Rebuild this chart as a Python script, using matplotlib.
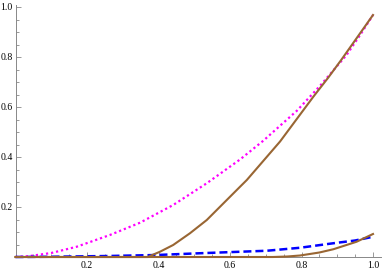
import matplotlib
matplotlib.use("Agg")
import matplotlib.pyplot as plt
from matplotlib.ticker import MultipleLocator, FixedLocator

# Magenta dotted curve
mag_x = [0, 0.04, 0.1, 0.171, 0.264, 0.348, 0.441, 0.535, 0.628, 0.693, 0.787, 0.852, 0.926, 0.964, 1.0]
mag_y = [0, 0.004, 0.016, 0.041, 0.088, 0.137, 0.208, 0.295, 0.390, 0.465, 0.585, 0.685, 0.808, 0.888, 0.968]

# Brown curve 1
br1_x = [0, 0.37, 0.376, 0.404, 0.441, 0.488, 0.535, 0.628, 0.647, 0.740, 0.833, 0.875, 0.912, 1.0]
br1_y = [0, 0, 0.004, 0.021, 0.048, 0.095, 0.148, 0.281, 0.308, 0.462, 0.641, 0.718, 0.790, 0.968]

# Blue dashed curve
blu_x = [0, 0.1, 0.26, 0.395, 0.516, 0.628, 0.703, 0.796, 0.889, 0.95, 1.0]
blu_y = [0, 0.001, 0.004, 0.008, 0.015, 0.021, 0.025, 0.037, 0.055, 0.066, 0.081]

# Brown curve 2
br2_x = [0, 0.72, 0.76, 0.796, 0.85, 0.889, 0.954, 1.0]
br2_y = [0, 0, 0.002, 0.006, 0.018, 0.031, 0.061, 0.092]

x_ticks = [0.2, 0.4, 0.6, 0.8, 1.0]
x_labels = ["0.2", "0.4", "0.6", "0.8", "1.0"]
y_ticks = [0.2, 0.4, 0.6, 0.8, 1.0]
y_labels = ["0.2", "0.4", "0.6", "0.8", "1.0"]

W, H = 382, 273
fig = plt.figure(figsize=(W / 100, H / 100), dpi=100)
left, right, y0px, toppx = 15.5, 380.7, 257, 5
ax = fig.add_axes([left / W, (H - y0px) / H, (right - left) / W, (y0px - toppx) / H])
ax.set_xlim(0, 1.0215)
ax.set_ylim(0, 1.008)

brown = "#996633"
ax.plot(mag_x, mag_y, color="#ff00ff", lw=1.6, linestyle=(0, (1.0, 1.3)),
        dash_capstyle="butt", clip_on=False, zorder=3)
ax.plot(blu_x, blu_y, color="#0000ff", lw=1.8, linestyle=(0, (3.2, 1.6)),
        dash_capstyle="butt", clip_on=False, zorder=3)
ax.plot(br2_x, br2_y, color=brown, lw=1.5, clip_on=False, zorder=4)
ax.plot(br1_x, br1_y, color=brown, lw=1.5, clip_on=False, zorder=4)

for s in ["top", "right"]:
    ax.spines[s].set_visible(False)
for s in ["left", "bottom"]:
    ax.spines[s].set_color("#888888")
    ax.spines[s].set_linewidth(0.7)

ax.xaxis.set_major_locator(FixedLocator(x_ticks))
ax.set_xticklabels(x_labels)
ax.yaxis.set_major_locator(FixedLocator(y_ticks))
ax.set_yticklabels(y_labels)
ax.xaxis.set_minor_locator(MultipleLocator(0.05))
ax.yaxis.set_minor_locator(MultipleLocator(0.05))
ax.tick_params(which="both", direction="in", color="#888888", width=0.6,
               labelsize=7, labelfontfamily="Liberation Serif")
ax.tick_params(which="major", length=3.5, pad=3)
ax.tick_params(which="minor", length=2)
ax.tick_params(axis="y", which="major", pad=2)

fig.savefig("out.png", dpi=100)
